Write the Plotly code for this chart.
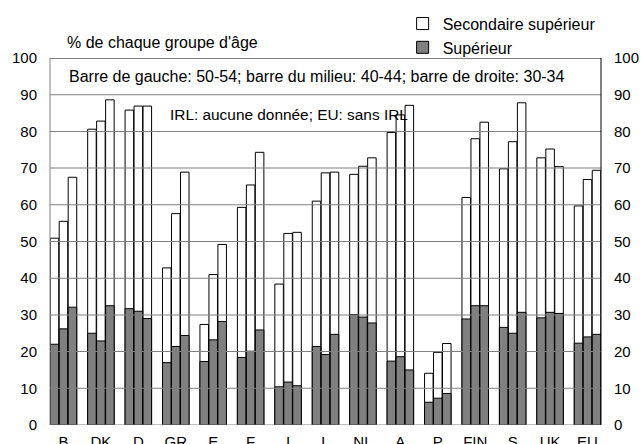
import plotly.graph_objects as go

categories = ["B", "DK", "D", "GR", "E", "F", "I", "L", "NL", "A", "P", "FIN", "S", "UK", "EU"]
age_groups = ["50-54", "40-44", "30-34"]

# Total: secondaire supérieur or higher (% of each age group)
total_50_54 = [50.9, 80.6, 85.8, 42.8, 27.4, 59.3, 38.4, 61.0, 68.3, 79.7, 14.1, 62.0, 69.8, 72.8, 59.7]
total_40_44 = [55.5, 82.8, 86.9, 57.6, 41.0, 65.4, 52.2, 68.7, 70.5, 84.5, 19.8, 78.0, 77.2, 75.2, 66.9]
total_30_34 = [67.5, 88.6, 86.9, 68.9, 49.2, 74.3, 52.5, 68.9, 72.8, 87.1, 22.2, 82.5, 87.8, 70.4, 69.4]

# Supérieur (tertiary)
sup_50_54 = [22.0, 25.0, 31.7, 17.0, 17.3, 18.4, 10.4, 21.4, 30.1, 17.4, 6.2, 28.9, 26.6, 29.2, 22.3]
sup_40_44 = [26.2, 22.9, 31.0, 21.4, 23.2, 20.1, 11.7, 19.2, 29.4, 18.6, 7.3, 32.5, 25.0, 30.7, 24.0]
sup_30_34 = [32.1, 32.5, 29.0, 24.4, 28.2, 25.9, 10.7, 24.7, 27.8, 15.0, 8.6, 32.5, 30.7, 30.4, 24.7]

y_ticks = [0, 10, 20, 30, 40, 50, 60, 70, 80, 90, 100]
grid_values = [10, 20, 30, 40, 50, 60, 70, 80, 90]

totals = [total_50_54, total_40_44, total_30_34]
sups = [sup_50_54, sup_40_44, sup_30_34]

FONT = "Liberation Sans, Arial, sans-serif"
GRID = "#808080"
HALF = 0.14  # half thickness of a 1px rule, in y units

fig = go.Figure()
for i, (ag, tot) in enumerate(zip(age_groups, totals)):
    fig.add_trace(go.Bar(
        x=categories, y=tot, name="Secondaire supérieur", yaxis="y",
        offsetgroup=str(i), legendgroup="sec", showlegend=(i == 0),
        marker=dict(color="white", line=dict(color="black", width=1)),
    ))
for i, (ag, sp) in enumerate(zip(age_groups, sups)):
    fig.add_trace(go.Bar(
        x=categories, y=sp, name="Supérieur", yaxis="y2",
        offsetgroup=str(i), legendgroup="sup", showlegend=(i == 0),
        marker=dict(color="#808080", line=dict(color="black", width=1)),
    ))

shapes = []
# horizontal grid rules (thin filled rectangles)
for v in grid_values:
    shapes.append(dict(type="rect", xref="paper", yref="y", x0=0, x1=1,
                       y0=v - HALF, y1=v + HALF, fillcolor=GRID,
                       line=dict(width=0), layer="above"))
# frame: bottom (gray), top (black), left (gray), right (black)
shapes.append(dict(type="rect", xref="paper", yref="y", x0=0, x1=1,
                   y0=-HALF, y1=HALF, fillcolor=GRID, line=dict(width=0), layer="above"))
shapes.append(dict(type="rect", xref="paper", yref="y", x0=0, x1=1,
                   y0=100 - HALF, y1=100 + HALF, fillcolor="black", line=dict(width=0), layer="above"))
shapes.append(dict(type="rect", xref="paper", yref="paper", x0=-0.0009, x1=0.0009,
                   y0=0, y1=1, fillcolor=GRID, line=dict(width=0), layer="above"))
shapes.append(dict(type="rect", xref="paper", yref="paper", x0=1 - 0.0009, x1=1 + 0.0009,
                   y0=0, y1=1, fillcolor="black", line=dict(width=0), layer="above"))

fig.update_layout(
    width=642, height=444,
    margin=dict(l=50, r=41, t=58, b=19, autoexpand=False),
    paper_bgcolor="white", plot_bgcolor="rgba(0,0,0,0)",
    barmode="group", bargap=0.28, bargroupgap=0.05,
    font=dict(family=FONT, size=15, color="black"),
    legend=dict(x=0.64, y=1.14, xanchor="left", yanchor="top",
                font=dict(size=16), bgcolor="rgba(0,0,0,0)",
                traceorder="normal", itemwidth=30),
    xaxis=dict(range=[-0.36, 14.36], showgrid=False, showline=False,
               ticks="", automargin=False, zeroline=False,
               tickfont=dict(size=15), ticklabelstandoff=6),
    yaxis=dict(range=[0, 100], tickvals=y_ticks, showgrid=False, showline=False,
               ticks="", automargin=False,
               tickfont=dict(size=15), ticklabelstandoff=12, zeroline=False),
    yaxis2=dict(range=[0, 100], tickvals=y_ticks, overlaying="y", side="right",
                showgrid=False, showline=False,
                ticks="", tickfont=dict(size=15), ticklabelstandoff=12,
                zeroline=False, automargin=False),
    shapes=shapes,
    annotations=[
        dict(text="% de chaque groupe d'âge", xref="paper", yref="paper",
             x=0.027, y=1.041, xanchor="left", yanchor="middle",
             showarrow=False, font=dict(size=16)),
        dict(text="Barre de gauche: 50-54; barre du milieu: 40-44; barre de droite: 30-34",
             xref="paper", yref="y", x=0.031, y=95, xanchor="left", yanchor="middle",
             showarrow=False, font=dict(size=16)),
        dict(text="IRL: aucune donnée; EU: sans IRL",
             xref="paper", yref="y", x=0.214, y=84.5, xanchor="left", yanchor="middle",
             showarrow=False, font=dict(size=15.4)),
    ],
)

fig.write_html(
    "out.html",
    config={"displayModeBar": False},
    post_script="document.body.style.margin='0';document.body.style.overflow='hidden';",
)
